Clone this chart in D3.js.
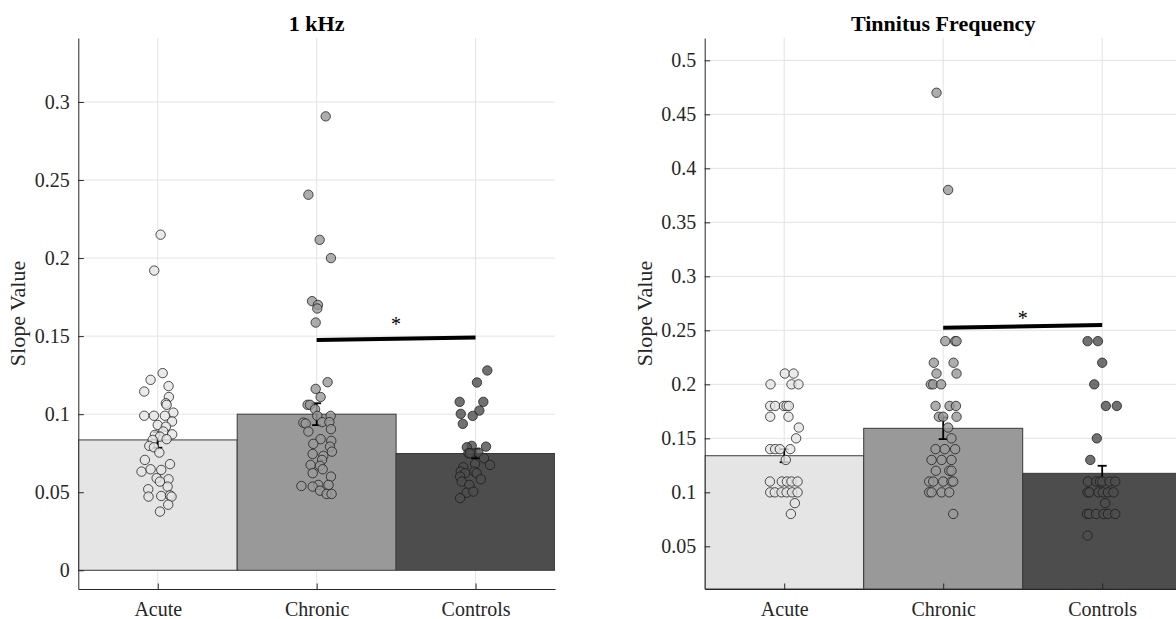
<!DOCTYPE html>
<html>
<head>
<meta charset="utf-8">
<script src="https://cdn.jsdelivr.net/npm/d3@7"></script>
<style>
  body { margin: 0; background: #fff; }
  svg { display: block; font-family: 'Liberation Serif', 'Times New Roman', serif; }
</style>
</head>
<body>
<div id="chart"></div>
<script>
// ---- data ----
const categories = ['Acute', 'Chronic', 'Controls'];

// 1 kHz panel
const khzMeans = [0.0835, 0.100, 0.0748];
const khzSem = [0.005, 0.007, 0.003];
const khzTicks = [0, 0.05, 0.1, 0.15, 0.2, 0.25, 0.3];
const khzSig = [0.1476, 0.1492];
const khzStar = 0.1594;

const khzAcuteY = [0.215, 0.192, 0.1263, 0.122, 0.118, 0.1145, 0.111, 0.107, 0.106, 0.101, 0.099, 0.099, 0.099,
  0.0953, 0.0931, 0.092, 0.0889, 0.0871, 0.0867, 0.0856, 0.0835, 0.084, 0.0797, 0.0788, 0.0754, 0.0707, 0.068,
  0.0632, 0.0647, 0.0643, 0.059, 0.0583, 0.0568, 0.0536, 0.0519, 0.0472, 0.0476, 0.048, 0.0472, 0.042, 0.0376];
const khzAcuteX = [0.018, -0.022, 0.031, -0.045, 0.068, -0.085, 0.07, 0.051, 0.056, 0.098, -0.085, -0.024, 0.045,
  0.09, 0, 0.051, 0.035, 0.091, -0.018, 0.014, -0.032, 0.056, -0.053, -0.024, 0.01, -0.081, 0.077,
  -0.102, -0.045, 0.022, -0.007, 0.068, 0.014, 0.062, -0.06, -0.058, 0.022, 0.077, 0.087, 0.066, 0.014];

const khzChronicY = [0.2908, 0.2406, 0.2117, 0.2, 0.1724, 0.170, 0.1677, 0.1587, 0.1205, 0.1162, 0.111, 0.106, 0.106,
  0.1032, 0.0989, 0.0989, 0.0949, 0.0949, 0.0946, 0.094, 0.0889, 0.0904, 0.084, 0.0829, 0.081, 0.0792, 0.076,
  0.0745, 0.0733, 0.0707, 0.0675, 0.0669, 0.0647, 0.0622, 0.06, 0.0547, 0.0547, 0.054, 0.0536, 0.051, 0.0489, 0.0489];
const khzChronicX = [0.057, -0.052, 0.019, 0.09, -0.029, 0.008, 0.004, -0.006, 0.069, -0.006, 0.025, -0.057, -0.042,
  -0.01, 0.004, 0.088, 0.034, 0.08, -0.084, -0.069, -0.052, 0.09, 0.025, 0.092, -0.021, 0.084, 0.096,
  -0.025, 0.042, 0.034, -0.038, 0.021, 0.038, -0.025, 0.09, 0.01, 0.075, -0.096, -0.025, 0.021, 0.063, 0.094];

const khzControlsY = [0.128, 0.1203, 0.1079, 0.1079, 0.1023, 0.1002, 0.0989, 0.0938, 0.0797, 0.0792, 0.0788, 0.0754,
  0.075, 0.075, 0.0718, 0.0681, 0.0675, 0.066, 0.0632, 0.0632, 0.0622, 0.0622, 0.06, 0.0583, 0.0568, 0.0547,
  0.0497, 0.0504, 0.0462];
const khzControlsX = [0.074, 0.009, -0.1, 0.049, 0.024, -0.093, -0.018, -0.08, -0.024, 0.066, -0.055, 0.018,
  -0.045, -0.035, 0.053, -0.003, 0.091, -0.077, -0.007, -0.093, 0.007, -0.066, -0.097, 0.033, -0.087, -0.039,
  -0.056, -0.014, -0.097];

// Tinnitus frequency panel
const tfMeans = [0.1339, 0.1593, 0.1176];
const tfSem = [0.006, 0.01, 0.007];
const tfTicks = [0.05, 0.1, 0.15, 0.2, 0.25, 0.3, 0.35, 0.4, 0.45, 0.5];
const tfSig = [0.2524, 0.2549];
const tfStar = 0.2642;

const tfAcuteY = [0.21, 0.21, 0.2, 0.2, 0.2, 0.18, 0.18, 0.18, 0.18, 0.18, 0.17, 0.17, 0.16, 0.15,
  0.14, 0.14, 0.14, 0.14, 0.13, 0.11, 0.11, 0.11, 0.11, 0.11, 0.1, 0.1, 0.1, 0.1, 0.1, 0.1, 0.09, 0.08];
const tfAcuteX = [0.004, 0.059, -0.086, 0.046, 0.09, -0.088, -0.057, -0.002, 0.015, 0.029, -0.088, 0.027, 0.092, 0.075,
  -0.088, -0.057, -0.027, 0.038, 0.01, -0.09, -0.015, 0.017, 0.046, 0.084, -0.088, -0.059, -0.017, 0.015, 0.05, 0.084, 0.067, 0.042];

const tfChronicY = [0.47, 0.38, 0.24, 0.24, 0.24, 0.22, 0.22, 0.21, 0.21, 0.2, 0.2, 0.2, 0.18, 0.18, 0.18,
  0.17, 0.17, 0.17, 0.16, 0.15, 0.14, 0.14, 0.14, 0.13, 0.13, 0.13, 0.12, 0.12, 0.12,
  0.11, 0.11, 0.11, 0.11, 0.11, 0.1, 0.1, 0.1, 0.1, 0.08];
const tfChronicX = [-0.042, 0.031, 0.013, 0.075, 0.084, -0.059, 0.065, -0.042, 0.084, -0.078, -0.063, -0.013, -0.048, 0.04, 0.08,
  -0.027, 0, 0.084, 0.031, 0.052, -0.048, 0.01, 0.075, -0.073, -0.01, 0.052, -0.046, 0.038, 0.052,
  -0.088, -0.063, 0, 0.052, 0.063, -0.088, -0.073, -0.01, 0.038, 0.063];

const tfControlsY = [0.24, 0.24, 0.22, 0.2, 0.18, 0.18, 0.15, 0.13, 0.11, 0.11, 0.11, 0.11, 0.11, 0.11,
  0.1, 0.1, 0.1, 0.1, 0.1, 0.1, 0.09, 0.08, 0.08, 0.08, 0.08, 0.08, 0.08, 0.06];
const tfControlsX = [-0.092, -0.027, 0, -0.05, 0.023, 0.092, -0.034, -0.075, -0.09, -0.038, -0.015, 0, 0.046, 0.082,
  -0.092, -0.08, -0.023, 0.004, 0.036, 0.071, 0.019, -0.096, -0.082, -0.038, 0.008, 0.036, 0.082, -0.092];

const barColors = ['#e5e5e5', '#999999', '#4d4d4d'];

// ---- layout ----
const W = 1176, H = 619;
const panels = [
  {
    title: '1 kHz', means: khzMeans, sem: khzSem, ticks: khzTicks, sig: khzSig, star: khzStar,
    dots: [[khzAcuteX, khzAcuteY], [khzChronicX, khzChronicY], [khzControlsX, khzControlsY]],
    yDomain: [-0.012, 0.341], left: 78.3, right: 555, labelX: 25
  },
  {
    title: 'Tinnitus Frequency', means: tfMeans, sem: tfSem, ticks: tfTicks, sig: tfSig, star: tfStar,
    dots: [[tfAcuteX, tfAcuteY], [tfChronicX, tfChronicY], [tfControlsX, tfControlsY]],
    yDomain: [0.0105, 0.5207], left: 704.7, right: 1181.7, labelX: 652
  }
];
const plotTop = 38, plotBottom = 589;

const svg = d3.select('#chart').append('svg')
  .attr('width', W)
  .attr('height', H)
  .attr('viewBox', [0, 0, W, H]);

const fmt = d => String(+d.toFixed(2));

panels.forEach((p, pi) => {
  const x = d3.scaleLinear().domain([0.5, 3.5]).range([p.left, p.right]);
  const y = d3.scaleLinear().domain(p.yDomain).range([plotBottom, plotTop]);
  const g = svg.append('g');

  g.append('clipPath').attr('id', 'clip' + pi)
    .append('rect')
    .attr('x', p.left).attr('y', plotTop)
    .attr('width', p.right - p.left).attr('height', plotBottom - plotTop);

  // grid
  g.append('g').selectAll('line')
    .data(p.ticks)
    .join('line')
    .attr('x1', p.left).attr('x2', p.right)
    .attr('y1', d => y(d)).attr('y2', d => y(d))
    .attr('stroke', '#e3e3e3').attr('stroke-width', 1);
  g.append('g').selectAll('line')
    .data([1, 2, 3])
    .join('line')
    .attr('x1', d => x(d)).attr('x2', d => x(d))
    .attr('y1', plotTop).attr('y2', plotBottom)
    .attr('stroke', '#e3e3e3').attr('stroke-width', 1);

  // bars
  const base = Math.max(0, p.yDomain[0]);
  g.append('g').attr('clip-path', `url(#clip${pi})`)
    .selectAll('rect')
    .data(p.means)
    .join('rect')
    .attr('x', (d, i) => x(i + 0.5))
    .attr('width', x(1.5) - x(0.5))
    .attr('y', d => y(d))
    .attr('height', d => y(base) - y(d))
    .attr('fill', (d, i) => barColors[i])
    .attr('stroke', '#3a3a3a')
    .attr('stroke-width', 1);

  // error bars
  const eb = g.append('g').attr('stroke', '#000').attr('stroke-width', 1.8);
  p.means.forEach((m, i) => {
    const cx = x(i + 1), lo = y(m - p.sem[i]), hi = y(m + p.sem[i]);
    eb.append('line').attr('x1', cx).attr('x2', cx).attr('y1', lo).attr('y2', hi);
    eb.append('line').attr('x1', cx - 4.5).attr('x2', cx + 4.5).attr('y1', lo).attr('y2', lo);
    eb.append('line').attr('x1', cx - 4.5).attr('x2', cx + 4.5).attr('y1', hi).attr('y2', hi);
  });

  // individual points
  p.dots.forEach(([xs, ys], i) => {
    g.append('g').selectAll('circle')
      .data(ys)
      .join('circle')
      .attr('cx', (d, j) => x(i + 1 + xs[j]))
      .attr('cy', d => y(d))
      .attr('r', 4.7)
      .attr('fill', barColors[i])
      .attr('fill-opacity', 0.8)
      .attr('stroke', '#1a1a1a')
      .attr('stroke-opacity', 0.85)
      .attr('stroke-width', 0.9);
  });

  // significance bar
  g.append('line')
    .attr('x1', x(2)).attr('x2', x(3))
    .attr('y1', y(p.sig[0])).attr('y2', y(p.sig[1]))
    .attr('stroke', '#000').attr('stroke-width', 4);
  g.append('text')
    .attr('x', x(2.5)).attr('y', y(p.star) + 10)
    .attr('text-anchor', 'middle')
    .style('font-size', '20px')
    .text('*');

  // axes
  const ya = g.append('g')
    .attr('transform', `translate(${p.left},0)`)
    .call(d3.axisLeft(y).tickValues(p.ticks).tickFormat(fmt).tickSizeInner(-5.5).tickSizeOuter(0).tickPadding(8.5));
  const xa = g.append('g')
    .attr('transform', `translate(0,${plotBottom})`)
    .call(d3.axisBottom(x).tickValues([1, 2, 3]).tickFormat(d => categories[d - 1]).tickSizeInner(-5.5).tickSizeOuter(0).tickPadding(13));
  [ya, xa].forEach(a => {
    a.select('.domain').attr('stroke', '#262626');
    a.selectAll('.tick line').attr('stroke', '#262626');
    a.selectAll('text')
      .style('font-family', "'Liberation Serif', 'Times New Roman', serif")
      .style('font-size', '20px')
      .attr('fill', '#262626');
  });

  // title and label
  g.append('text')
    .attr('x', x(2))
    .attr('y', 31)
    .attr('text-anchor', 'middle')
    .style('font-size', '22px')
    .style('font-weight', 'bold')
    .text(p.title);
  g.append('text')
    .attr('transform', `translate(${p.labelX},${(plotTop + plotBottom) / 2}) rotate(-90)`)
    .attr('text-anchor', 'middle')
    .style('font-size', '22px')
    .attr('fill', '#262626')
    .text('Slope Value');
});
</script>
</body>
</html>
